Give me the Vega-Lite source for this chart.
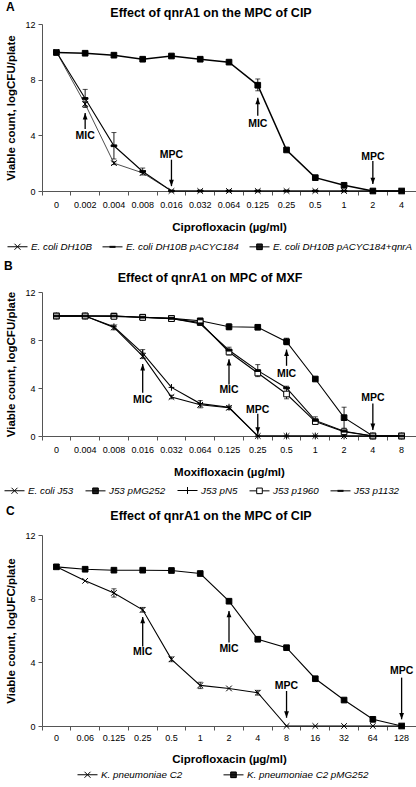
{
  "$schema": "https://vega.github.io/schema/vega-lite/v6.json",
  "background": "white",
  "padding": {"left": 4, "top": 0, "right": 0, "bottom": 0},
  "spacing": 8,
  "config": {
    "font": "Liberation Sans",
    "view": {"stroke": null},
    "axis": {"domainColor": "#555", "tickColor": "#555", "labelColor": "#000", "titleColor": "#000", "labelFont": "Liberation Sans", "titleFont": "Liberation Sans", "labelFontSize": 9, "titleFontSize": 11.5, "titleFontWeight": "bold", "grid": false, "tickSize": 4},
    "legend": {"labelFont": "Liberation Sans", "labelFontSize": 9.8, "labelFontStyle": "italic", "labelColor": "#000", "direction": "horizontal", "symbolSize": 400, "symbolStrokeWidth": 1, "labelOffset": 3, "padding": 0},
    "title": {"font": "Liberation Sans", "color": "#000"},
    "text": {"font": "Liberation Sans"}
  },
  "datasets": {
    "a_pts": [
      {"c": "0", "s": "E. coli DH10B", "v": 10}, {"c": "0.002", "s": "E. coli DH10B", "v": 6.25}, {"c": "0.004", "s": "E. coli DH10B", "v": 2.0}, {"c": "0.008", "s": "E. coli DH10B", "v": 1.3}, {"c": "0.016", "s": "E. coli DH10B", "v": 0}, {"c": "0.032", "s": "E. coli DH10B", "v": 0}, {"c": "0.064", "s": "E. coli DH10B", "v": 0}, {"c": "0.125", "s": "E. coli DH10B", "v": 0}, {"c": "0.25", "s": "E. coli DH10B", "v": 0}, {"c": "0.5", "s": "E. coli DH10B", "v": 0}, {"c": "1", "s": "E. coli DH10B", "v": 0}, {"c": "2", "s": "E. coli DH10B", "v": 0}, {"c": "4", "s": "E. coli DH10B", "v": 0},
      {"c": "0", "s": "E. coli DH10B pACYC184", "v": 10}, {"c": "0.002", "s": "E. coli DH10B pACYC184", "v": 6.65}, {"c": "0.004", "s": "E. coli DH10B pACYC184", "v": 3.25}, {"c": "0.008", "s": "E. coli DH10B pACYC184", "v": 1.4}, {"c": "0.016", "s": "E. coli DH10B pACYC184", "v": 0}, {"c": "0.032", "s": "E. coli DH10B pACYC184", "v": 0}, {"c": "0.064", "s": "E. coli DH10B pACYC184", "v": 0}, {"c": "0.125", "s": "E. coli DH10B pACYC184", "v": 0}, {"c": "0.25", "s": "E. coli DH10B pACYC184", "v": 0}, {"c": "0.5", "s": "E. coli DH10B pACYC184", "v": 0}, {"c": "1", "s": "E. coli DH10B pACYC184", "v": 0}, {"c": "2", "s": "E. coli DH10B pACYC184", "v": 0}, {"c": "4", "s": "E. coli DH10B pACYC184", "v": 0},
      {"c": "0", "s": "E. coli DH10B pACYC184+qnrA", "v": 9.95}, {"c": "0.002", "s": "E. coli DH10B pACYC184+qnrA", "v": 9.9}, {"c": "0.004", "s": "E. coli DH10B pACYC184+qnrA", "v": 9.76}, {"c": "0.008", "s": "E. coli DH10B pACYC184+qnrA", "v": 9.47}, {"c": "0.016", "s": "E. coli DH10B pACYC184+qnrA", "v": 9.7}, {"c": "0.032", "s": "E. coli DH10B pACYC184+qnrA", "v": 9.47}, {"c": "0.064", "s": "E. coli DH10B pACYC184+qnrA", "v": 9.26}, {"c": "0.125", "s": "E. coli DH10B pACYC184+qnrA", "v": 7.6}, {"c": "0.25", "s": "E. coli DH10B pACYC184+qnrA", "v": 2.95}, {"c": "0.5", "s": "E. coli DH10B pACYC184+qnrA", "v": 0.96}, {"c": "1", "s": "E. coli DH10B pACYC184+qnrA", "v": 0.41}, {"c": "2", "s": "E. coli DH10B pACYC184+qnrA", "v": 0}, {"c": "4", "s": "E. coli DH10B pACYC184+qnrA", "v": 0}
    ],
    "a_err": [
      {"c": "0.002", "lo": 6.0, "hi": 7.3}, {"c": "0.002", "lo": 6.1, "hi": 6.4},
      {"c": "0.004", "lo": 2.3, "hi": 4.2}, {"c": "0.004", "lo": 1.9, "hi": 2.1},
      {"c": "0.008", "lo": 1.15, "hi": 1.65}, {"c": "0.008", "lo": 9.35, "hi": 9.6},
      {"c": "0.125", "lo": 7.2, "hi": 8.05}
    ],
    "a_ann": [
      {"c": "0.002", "y1": 4.46, "y2": 5.6, "ty": 3.96, "t": "MIC", "dir": "up"},
      {"c": "0.125", "y1": 5.4, "y2": 6.7, "ty": 4.8, "t": "MIC", "dir": "up"},
      {"c": "0.016", "y1": 2.25, "y2": 0.35, "ty": 2.57, "t": "MPC", "dir": "down"},
      {"c": "2", "y1": 2.15, "y2": 0.5, "ty": 2.45, "t": "MPC", "dir": "down"}
    ],
    "b_pts": [
      {"c": "0", "s": "E. coli J53", "v": 10}, {"c": "0.004", "s": "E. coli J53", "v": 10}, {"c": "0.008", "s": "E. coli J53", "v": 9.05}, {"c": "0.016", "s": "E. coli J53", "v": 6.65}, {"c": "0.032", "s": "E. coli J53", "v": 3.25}, {"c": "0.064", "s": "E. coli J53", "v": 2.6}, {"c": "0.125", "s": "E. coli J53", "v": 2.35}, {"c": "0.25", "s": "E. coli J53", "v": 0}, {"c": "0.5", "s": "E. coli J53", "v": 0}, {"c": "1", "s": "E. coli J53", "v": 0}, {"c": "2", "s": "E. coli J53", "v": 0}, {"c": "4", "s": "E. coli J53", "v": 0}, {"c": "8", "s": "E. coli J53", "v": 0},
      {"c": "0", "s": "J53 pMG252", "v": 10}, {"c": "0.004", "s": "J53 pMG252", "v": 10}, {"c": "0.008", "s": "J53 pMG252", "v": 10}, {"c": "0.016", "s": "J53 pMG252", "v": 9.9}, {"c": "0.032", "s": "J53 pMG252", "v": 9.8}, {"c": "0.064", "s": "J53 pMG252", "v": 9.6}, {"c": "0.125", "s": "J53 pMG252", "v": 9.1}, {"c": "0.25", "s": "J53 pMG252", "v": 9.06}, {"c": "0.5", "s": "J53 pMG252", "v": 7.86}, {"c": "1", "s": "J53 pMG252", "v": 4.75}, {"c": "2", "s": "J53 pMG252", "v": 1.53}, {"c": "4", "s": "J53 pMG252", "v": 0}, {"c": "8", "s": "J53 pMG252", "v": 0},
      {"c": "0", "s": "J53 pN5", "v": 10}, {"c": "0.004", "s": "J53 pN5", "v": 10}, {"c": "0.008", "s": "J53 pN5", "v": 9.1}, {"c": "0.016", "s": "J53 pN5", "v": 6.9}, {"c": "0.032", "s": "J53 pN5", "v": 4.05}, {"c": "0.064", "s": "J53 pN5", "v": 2.7}, {"c": "0.125", "s": "J53 pN5", "v": 2.4}, {"c": "0.25", "s": "J53 pN5", "v": 0}, {"c": "0.5", "s": "J53 pN5", "v": 0}, {"c": "1", "s": "J53 pN5", "v": 0}, {"c": "2", "s": "J53 pN5", "v": 0}, {"c": "4", "s": "J53 pN5", "v": 0}, {"c": "8", "s": "J53 pN5", "v": 0},
      {"c": "0", "s": "J53 p1960", "v": 10}, {"c": "0.004", "s": "J53 p1960", "v": 10}, {"c": "0.008", "s": "J53 p1960", "v": 9.97}, {"c": "0.016", "s": "J53 p1960", "v": 9.88}, {"c": "0.032", "s": "J53 p1960", "v": 9.78}, {"c": "0.064", "s": "J53 p1960", "v": 9.45}, {"c": "0.125", "s": "J53 p1960", "v": 7.0}, {"c": "0.25", "s": "J53 p1960", "v": 5.25}, {"c": "0.5", "s": "J53 p1960", "v": 3.5}, {"c": "1", "s": "J53 p1960", "v": 1.2}, {"c": "2", "s": "J53 p1960", "v": 0.35}, {"c": "4", "s": "J53 p1960", "v": 0}, {"c": "8", "s": "J53 p1960", "v": 0},
      {"c": "0", "s": "J53 p1132", "v": 10}, {"c": "0.004", "s": "J53 p1132", "v": 10}, {"c": "0.008", "s": "J53 p1132", "v": 10}, {"c": "0.016", "s": "J53 p1132", "v": 9.9}, {"c": "0.032", "s": "J53 p1132", "v": 9.8}, {"c": "0.064", "s": "J53 p1132", "v": 9.35}, {"c": "0.125", "s": "J53 p1132", "v": 7.15}, {"c": "0.25", "s": "J53 p1132", "v": 5.45}, {"c": "0.5", "s": "J53 p1132", "v": 4.0}, {"c": "1", "s": "J53 p1132", "v": 1.3}, {"c": "2", "s": "J53 p1132", "v": 0.4}, {"c": "4", "s": "J53 p1132", "v": 0}, {"c": "8", "s": "J53 p1132", "v": 0}
    ],
    "b_err": [
      {"c": "0.008", "lo": 8.85, "hi": 9.25},
      {"c": "0.016", "lo": 6.45, "hi": 7.2},
      {"c": "0.032", "lo": 3.1, "hi": 3.4}, {"c": "0.032", "lo": 9.6, "hi": 10.0},
      {"c": "0.064", "lo": 2.35, "hi": 2.95}, {"c": "0.064", "lo": 9.3, "hi": 9.7},
      {"c": "0.125", "lo": 2.2, "hi": 2.5}, {"c": "0.125", "lo": 8.85, "hi": 9.35}, {"c": "0.125", "lo": 6.75, "hi": 7.4},
      {"c": "0.25", "lo": 8.9, "hi": 9.25}, {"c": "0.25", "lo": 4.95, "hi": 5.95},
      {"c": "0.5", "lo": 7.6, "hi": 8.15}, {"c": "0.5", "lo": 3.1, "hi": 4.15},
      {"c": "1", "lo": 4.6, "hi": 4.9}, {"c": "1", "lo": 1.0, "hi": 1.6},
      {"c": "2", "lo": 0.65, "hi": 2.4}, {"c": "2", "lo": 0.15, "hi": 0.55}
    ],
    "b_ann": [
      {"c": "0.016", "y1": 3.6, "y2": 6.0, "ty": 3.0, "t": "MIC", "dir": "up"},
      {"c": "0.125", "y1": 4.3, "y2": 6.4, "ty": 3.85, "t": "MIC", "dir": "up"},
      {"c": "0.5", "y1": 5.85, "y2": 7.2, "ty": 5.15, "t": "MIC", "dir": "up"},
      {"c": "0.25", "y1": 1.85, "y2": 0.2, "ty": 2.15, "t": "MPC", "dir": "down"},
      {"c": "4", "y1": 2.7, "y2": 0.5, "ty": 3.2, "t": "MPC", "dir": "down"}
    ],
    "c_pts": [
      {"c": "0", "s": "K. pneumoniae C2", "v": 10}, {"c": "0.06", "s": "K. pneumoniae C2", "v": 9.12}, {"c": "0.125", "s": "K. pneumoniae C2", "v": 8.36}, {"c": "0.25", "s": "K. pneumoniae C2", "v": 7.3}, {"c": "0.5", "s": "K. pneumoniae C2", "v": 4.19}, {"c": "1", "s": "K. pneumoniae C2", "v": 2.55}, {"c": "2", "s": "K. pneumoniae C2", "v": 2.36}, {"c": "4", "s": "K. pneumoniae C2", "v": 2.09}, {"c": "8", "s": "K. pneumoniae C2", "v": 0}, {"c": "16", "s": "K. pneumoniae C2", "v": 0}, {"c": "32", "s": "K. pneumoniae C2", "v": 0}, {"c": "64", "s": "K. pneumoniae C2", "v": 0}, {"c": "128", "s": "K. pneumoniae C2", "v": 0},
      {"c": "0", "s": "K. pneumoniae C2 pMG252", "v": 10}, {"c": "0.06", "s": "K. pneumoniae C2 pMG252", "v": 9.85}, {"c": "0.125", "s": "K. pneumoniae C2 pMG252", "v": 9.79}, {"c": "0.25", "s": "K. pneumoniae C2 pMG252", "v": 9.79}, {"c": "0.5", "s": "K. pneumoniae C2 pMG252", "v": 9.77}, {"c": "1", "s": "K. pneumoniae C2 pMG252", "v": 9.58}, {"c": "2", "s": "K. pneumoniae C2 pMG252", "v": 7.84}, {"c": "4", "s": "K. pneumoniae C2 pMG252", "v": 5.45}, {"c": "8", "s": "K. pneumoniae C2 pMG252", "v": 4.92}, {"c": "16", "s": "K. pneumoniae C2 pMG252", "v": 2.97}, {"c": "32", "s": "K. pneumoniae C2 pMG252", "v": 1.63}, {"c": "64", "s": "K. pneumoniae C2 pMG252", "v": 0.42}, {"c": "128", "s": "K. pneumoniae C2 pMG252", "v": 0}
    ],
    "c_err": [
      {"c": "0.125", "lo": 8.1, "hi": 8.62}, {"c": "0.25", "lo": 7.15, "hi": 7.45}, {"c": "0.5", "lo": 4.04, "hi": 4.34}, {"c": "1", "lo": 2.35, "hi": 2.75}, {"c": "4", "lo": 1.94, "hi": 2.24},
      {"c": "0.5", "lo": 9.67, "hi": 9.87}, {"c": "2", "lo": 7.74, "hi": 7.94}, {"c": "64", "lo": 0.27, "hi": 0.57}
    ],
    "c_ann": [
      {"c": "0.25", "y1": 5.0, "y2": 6.85, "ty": 4.67, "t": "MIC", "dir": "up"},
      {"c": "2", "y1": 5.24, "y2": 7.23, "ty": 4.82, "t": "MIC", "dir": "up"},
      {"c": "8", "y1": 2.2, "y2": 0.52, "ty": 2.52, "t": "MPC", "dir": "down"},
      {"c": "128", "y1": 3.04, "y2": 0.42, "ty": 3.46, "t": "MPC", "dir": "down"}
    ]
  },
  "vconcat": [
    {
      "title": {"text": "A", "anchor": "start", "frame": "bounds", "fontSize": 12, "fontWeight": "bold", "offset": -7},
      "vconcat": [{
        "width": 374, "height": 167,
        "title": {"text": "Effect of qnrA1 on the MPC of CIP", "anchor": "middle", "frame": "bounds", "fontSize": 12.5, "fontWeight": "bold", "offset": 1},
        "encoding": {"x": {"field": "c", "type": "nominal", "scale": {"type": "band", "domain": ["0","0.002","0.004","0.008","0.016","0.032","0.064","0.125","0.25","0.5","1","2","4"], "paddingInner": 0, "paddingOuter": 0}, "axis": {"title": "Ciprofloxacin (µg/ml)", "bandPosition": 0, "labelAngle": 0, "labelPadding": 5, "titlePadding": 12}}},
        "layer": [
          {"data": {"name": "a_pts"}, "mark": {"type": "line", "color": "black"}, "encoding": {"y": {"field": "v", "type": "quantitative", "scale": {"domain": [0, 12], "nice": false}, "axis": {"title": "Viable count, logCFU/plate", "values": [0, 2, 4, 6, 8, 10, 12], "labelPadding": 3, "titlePadding": 8}}, "detail": {"field": "s"}, "strokeWidth": {"field": "s", "type": "nominal", "scale": {"domain": ["E. coli DH10B", "E. coli DH10B pACYC184", "E. coli DH10B pACYC184+qnrA"], "range": [0.7, 1.5, 1.2]}, "legend": null}}},
          {"data": {"name": "a_err"}, "mark": {"type": "rule", "color": "black", "strokeWidth": 0.9}, "encoding": {"y": {"field": "lo", "type": "quantitative"}, "y2": {"field": "hi"}}},
          {"data": {"name": "a_err"}, "mark": {"type": "tick", "color": "black", "size": 5, "thickness": 1}, "encoding": {"y": {"field": "lo", "type": "quantitative"}}},
          {"data": {"name": "a_err"}, "mark": {"type": "tick", "color": "black", "size": 5, "thickness": 1}, "encoding": {"y": {"field": "hi", "type": "quantitative"}}},
          {"data": {"name": "a_pts"}, "mark": {"type": "point", "size": 32, "filled": true, "stroke": "black", "strokeWidth": 1, "opacity": 1}, "encoding": {"y": {"field": "v", "type": "quantitative"}, "shape": {"field": "s", "type": "nominal", "scale": {"domain": ["E. coli DH10B", "E. coli DH10B pACYC184", "E. coli DH10B pACYC184+qnrA"], "range": ["M-1,-1L1,1M-1,1L1,-1", "M-1,-0.3H1V0.3H-1Z", "square"]}, "legend": null}, "fill": {"field": "s", "type": "nominal", "scale": {"domain": ["E. coli DH10B", "E. coli DH10B pACYC184", "E. coli DH10B pACYC184+qnrA"], "range": ["black", "black", "black"]}, "legend": null}}},
          {"data": {"name": "a_ann"}, "mark": {"type": "rule", "color": "black", "strokeWidth": 1.3}, "encoding": {"y": {"field": "y1", "type": "quantitative"}, "y2": {"field": "y2"}}},
          {"data": {"name": "a_ann"}, "mark": {"type": "point", "size": 64, "filled": true, "color": "black", "opacity": 1}, "encoding": {"y": {"field": "y2", "type": "quantitative"}, "shape": {"field": "dir", "type": "nominal", "scale": {"domain": ["up", "down"], "range": ["M0,0L0.6,1.6L-0.6,1.6Z", "M0,0L0.6,-1.6L-0.6,-1.6Z"]}, "legend": null}}},
          {"data": {"name": "a_ann"}, "mark": {"type": "text", "fontWeight": "bold", "fontSize": 10.5, "color": "black"}, "encoding": {"y": {"field": "ty", "type": "quantitative"}, "text": {"field": "t"}}},
          {"data": {"name": "a_pts"}, "transform": [{"filter": "datum.v < -100"}], "mark": {"type": "point", "filled": false, "color": "black", "strokeWidth": 1, "opacity": 1}, "encoding": {"y": {"field": "v", "type": "quantitative"}, "shape": {"field": "s", "type": "nominal", "scale": {"domain": ["E. coli DH10B", "E. coli DH10B pACYC184", "E. coli DH10B pACYC184+qnrA"], "range": ["M-1,0H1M-0.3,-0.3L0.3,0.3M-0.3,0.3L0.3,-0.3", "M-1,0H1M-0.3,-0.05H0.3M-0.3,0.05H0.3", "M-1,0H1M-0.28,-0.25H0.28M-0.28,-0.15H0.28M-0.28,-0.05H0.28M-0.28,0.05H0.28M-0.28,0.15H0.28M-0.28,0.25H0.28M-0.28,-0.28H0.28V0.28H-0.28Z"]}, "legend": {"title": null, "orient": "none", "legendX": -35, "legendY": 212, "direction": "horizontal", "columnPadding": 8}}}}
        ],
        "resolve": {"scale": {"shape": "independent", "fill": "independent", "strokeWidth": "independent"}}
      }]
    },
    {
      "title": {"text": "B", "anchor": "start", "frame": "bounds", "fontSize": 12, "fontWeight": "bold", "offset": -1},
      "vconcat": [{
        "width": 374, "height": 144,
        "title": {"text": "Effect of qnrA1 on MPC of MXF", "anchor": "middle", "frame": "bounds", "fontSize": 12.5, "fontWeight": "bold", "offset": 3.5},
        "encoding": {"x": {"field": "c", "type": "nominal", "scale": {"type": "band", "domain": ["0","0.004","0.008","0.016","0.032","0.064","0.125","0.25","0.5","1","2","4","8"], "paddingInner": 0, "paddingOuter": 0}, "axis": {"title": "Moxifloxacin (µg/ml)", "bandPosition": 0, "labelAngle": 0, "labelPadding": 5, "titlePadding": 12}}},
        "layer": [
          {"data": {"name": "b_pts"}, "mark": {"type": "line", "color": "black", "strokeWidth": 1.1}, "encoding": {"y": {"field": "v", "type": "quantitative", "scale": {"domain": [0, 12], "nice": false}, "axis": {"title": "Viable count, logCFU/plate", "values": [0, 2, 4, 6, 8, 10, 12], "labelPadding": 3, "titlePadding": 8}}, "detail": {"field": "s"}}},
          {"data": {"name": "b_err"}, "mark": {"type": "rule", "color": "black", "strokeWidth": 0.9}, "encoding": {"y": {"field": "lo", "type": "quantitative"}, "y2": {"field": "hi"}}},
          {"data": {"name": "b_err"}, "mark": {"type": "tick", "color": "black", "size": 5, "thickness": 1}, "encoding": {"y": {"field": "lo", "type": "quantitative"}}},
          {"data": {"name": "b_err"}, "mark": {"type": "tick", "color": "black", "size": 5, "thickness": 1}, "encoding": {"y": {"field": "hi", "type": "quantitative"}}},
          {"data": {"name": "b_pts"}, "mark": {"type": "point", "size": 32, "filled": true, "stroke": "black", "strokeWidth": 1, "opacity": 1}, "encoding": {"y": {"field": "v", "type": "quantitative"}, "shape": {"field": "s", "type": "nominal", "scale": {"domain": ["E. coli J53", "J53 pMG252", "J53 pN5", "J53 p1960", "J53 p1132"], "range": ["M-1,-1L1,1M-1,1L1,-1", "square", "M0,-1.2V1.2M-1,0H1", "square", "M-1,-0.3H1V0.3H-1Z"]}, "legend": null}, "fill": {"field": "s", "type": "nominal", "scale": {"domain": ["E. coli J53", "J53 pMG252", "J53 pN5", "J53 p1960", "J53 p1132"], "range": ["black", "black", "black", "white", "black"]}, "legend": null}}},
          {"data": {"name": "b_ann"}, "mark": {"type": "rule", "color": "black", "strokeWidth": 1.3}, "encoding": {"y": {"field": "y1", "type": "quantitative"}, "y2": {"field": "y2"}}},
          {"data": {"name": "b_ann"}, "mark": {"type": "point", "size": 64, "filled": true, "color": "black", "opacity": 1}, "encoding": {"y": {"field": "y2", "type": "quantitative"}, "shape": {"field": "dir", "type": "nominal", "scale": {"domain": ["up", "down"], "range": ["M0,0L0.6,1.6L-0.6,1.6Z", "M0,0L0.6,-1.6L-0.6,-1.6Z"]}, "legend": null}}},
          {"data": {"name": "b_ann"}, "mark": {"type": "text", "fontWeight": "bold", "fontSize": 10.5, "color": "black"}, "encoding": {"y": {"field": "ty", "type": "quantitative"}, "text": {"field": "t"}}},
          {"data": {"name": "b_pts"}, "transform": [{"filter": "datum.v < -100"}], "mark": {"type": "point", "filled": false, "color": "black", "strokeWidth": 1, "opacity": 1}, "encoding": {"y": {"field": "v", "type": "quantitative"}, "shape": {"field": "s", "type": "nominal", "scale": {"domain": ["E. coli J53", "J53 pMG252", "J53 pN5", "J53 p1960", "J53 p1132"], "range": ["M-1,0H1M-0.3,-0.3L0.3,0.3M-0.3,0.3L0.3,-0.3", "M-1,0H1M-0.28,-0.25H0.28M-0.28,-0.15H0.28M-0.28,-0.05H0.28M-0.28,0.05H0.28M-0.28,0.15H0.28M-0.28,0.25H0.28M-0.28,-0.28H0.28V0.28H-0.28Z", "M-1,0H1M0,-0.35V0.35", "M-1,0H-0.28M0.28,0H1M-0.28,-0.28H0.28V0.28H-0.28Z", "M-1,0H1M-0.3,-0.05H0.3M-0.3,0.05H0.3"]}, "legend": {"title": null, "orient": "none", "legendX": -38, "legendY": 188, "direction": "horizontal", "columnPadding": 9}}}}
        ],
        "resolve": {"scale": {"shape": "independent", "fill": "independent"}}
      }]
    },
    {
      "title": {"text": "C", "anchor": "start", "frame": "bounds", "fontSize": 12, "fontWeight": "bold", "offset": -8},
      "vconcat": [{
        "width": 374, "height": 191,
        "title": {"text": "Effect of qnrA1 on the MPC of CIP", "anchor": "middle", "frame": "bounds", "fontSize": 12.5, "fontWeight": "bold", "offset": 9},
        "encoding": {"x": {"field": "c", "type": "nominal", "scale": {"type": "band", "domain": ["0","0.06","0.125","0.25","0.5","1","2","4","8","16","32","64","128"], "paddingInner": 0, "paddingOuter": 0}, "axis": {"title": "Ciprofloxacin (µg/ml)", "bandPosition": 0, "labelAngle": 0, "labelPadding": 3, "titlePadding": 11}}},
        "layer": [
          {"data": {"name": "c_pts"}, "mark": {"type": "line", "color": "black", "strokeWidth": 1.1}, "encoding": {"y": {"field": "v", "type": "quantitative", "scale": {"domain": [0, 12], "nice": false}, "axis": {"title": "Viable count, logUFC/plate", "values": [0, 2, 4, 6, 8, 10, 12], "labelPadding": 3, "titlePadding": 8}}, "detail": {"field": "s"}}},
          {"data": {"name": "c_err"}, "mark": {"type": "rule", "color": "black", "strokeWidth": 0.9}, "encoding": {"y": {"field": "lo", "type": "quantitative"}, "y2": {"field": "hi"}}},
          {"data": {"name": "c_err"}, "mark": {"type": "tick", "color": "black", "size": 5, "thickness": 1}, "encoding": {"y": {"field": "lo", "type": "quantitative"}}},
          {"data": {"name": "c_err"}, "mark": {"type": "tick", "color": "black", "size": 5, "thickness": 1}, "encoding": {"y": {"field": "hi", "type": "quantitative"}}},
          {"data": {"name": "c_pts"}, "mark": {"type": "point", "size": 32, "filled": true, "fill": "black", "stroke": "black", "strokeWidth": 1, "opacity": 1}, "encoding": {"y": {"field": "v", "type": "quantitative"}, "shape": {"field": "s", "type": "nominal", "scale": {"domain": ["K. pneumoniae C2", "K. pneumoniae C2 pMG252"], "range": ["M-1,-1L1,1M-1,1L1,-1", "square"]}, "legend": null}}},
          {"data": {"name": "c_ann"}, "mark": {"type": "rule", "color": "black", "strokeWidth": 1.3}, "encoding": {"y": {"field": "y1", "type": "quantitative"}, "y2": {"field": "y2"}}},
          {"data": {"name": "c_ann"}, "mark": {"type": "point", "size": 64, "filled": true, "color": "black", "opacity": 1}, "encoding": {"y": {"field": "y2", "type": "quantitative"}, "shape": {"field": "dir", "type": "nominal", "scale": {"domain": ["up", "down"], "range": ["M0,0L0.6,1.6L-0.6,1.6Z", "M0,0L0.6,-1.6L-0.6,-1.6Z"]}, "legend": null}}},
          {"data": {"name": "c_ann"}, "mark": {"type": "text", "fontWeight": "bold", "fontSize": 10.5, "color": "black"}, "encoding": {"y": {"field": "ty", "type": "quantitative"}, "text": {"field": "t"}}},
          {"data": {"name": "c_pts"}, "transform": [{"filter": "datum.v < -100"}], "mark": {"type": "point", "filled": false, "color": "black", "strokeWidth": 1, "opacity": 1}, "encoding": {"y": {"field": "v", "type": "quantitative"}, "shape": {"field": "s", "type": "nominal", "scale": {"domain": ["K. pneumoniae C2", "K. pneumoniae C2 pMG252"], "range": ["M-1,0H1M-0.3,-0.3L0.3,0.3M-0.3,0.3L0.3,-0.3", "M-1,0H1M-0.28,-0.25H0.28M-0.28,-0.15H0.28M-0.28,-0.05H0.28M-0.28,0.05H0.28M-0.28,0.15H0.28M-0.28,0.25H0.28M-0.28,-0.28H0.28V0.28H-0.28Z"]}, "legend": {"title": null, "orient": "none", "legendX": 35, "legendY": 229, "direction": "horizontal", "columnPadding": 38}}}}
        ],
        "resolve": {"scale": {"shape": "independent"}}
      }]
    }
  ]
}
